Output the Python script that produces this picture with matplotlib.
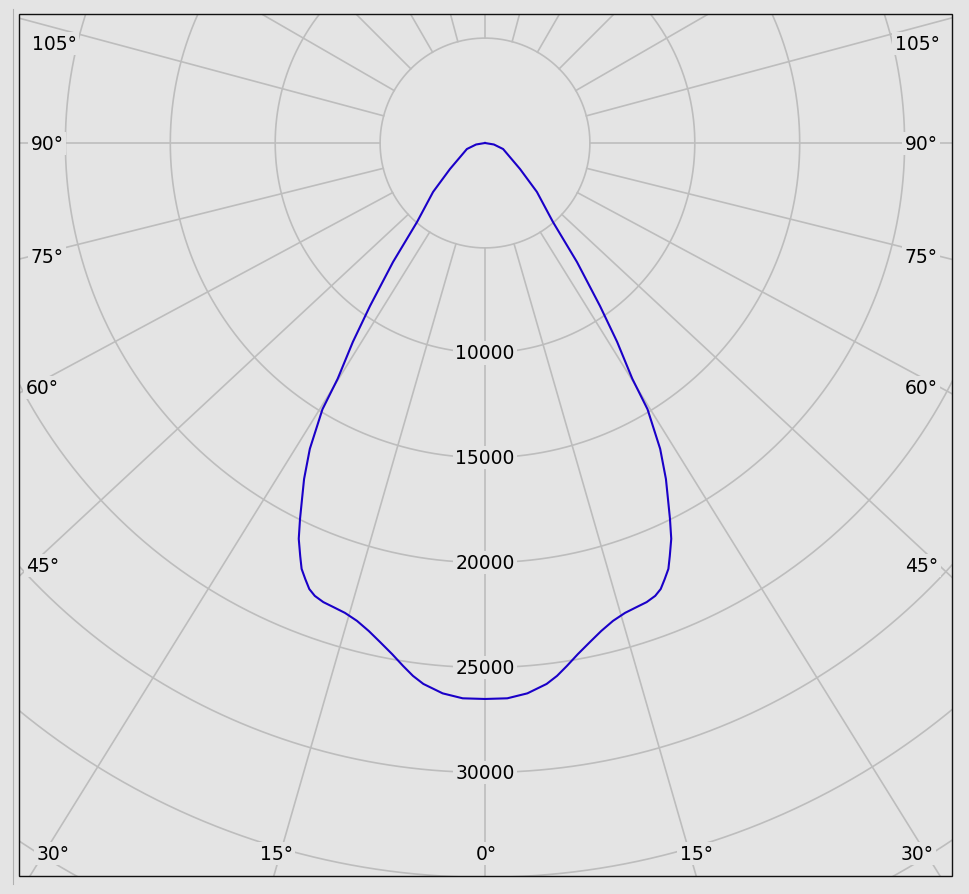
import numpy as np
import matplotlib
matplotlib.use("Agg")
import matplotlib.pyplot as plt
from matplotlib.patches import Rectangle
from matplotlib.lines import Line2D

# ---------------- data ----------------
gamma_deg = [0, 2.3, 4.4, 6.5, 7.7, 8.9, 10.3, 11.9, 13.4, 15.0, 16.6, 18.1,
             19.4, 20.6, 21.5, 22.4, 23.3, 24.1, 25.2, 26.2, 27.2, 28.3, 29.8,
             31.4, 32.0, 33.6, 35.2, 37.7, 40.7, 46.7, 53.4, 58.9, 71.6, 80.5, 90]
intensity_cd = [26500, 26490, 26310, 25950, 25630, 25230, 24760, 24300, 23910,
                23580, 23370, 23270, 23200, 23060, 22850, 22480, 22100, 21570,
                20850, 19970, 19080, 18190, 16800, 14870, 13250, 11380, 9510,
                7170, 4970, 3400, 2080, 1480, 910, 430, 0]
ring_values = [5000, 10000, 15000, 20000, 25000, 30000, 35000, 40000, 45000]
ring_label_values = [10000, 15000, 20000, 25000, 30000]
spoke_angles = list(range(0, 360, 15))
left_labels = ["105°", "90°", "75°", "60°", "45°"]
bottom_labels = ["30°", "15°", "0°", "15°", "30°"]
right_labels = ["45°", "60°", "75°", "90°", "105°"]

# ---------------- layout / style ----------------
W, H = 969, 895
BG = "#e4e4e4"
GRID = "#bdbdbd"
CURVE = "#1a00c8"
FS = 13.5
PX_PER_CD = 0.02098
CX, CY = 485, 144           # pole position in pixels (from top-left)
R_MAX = 45000
R_PX = R_MAX * PX_PER_CD
PL, PR, PT, PB = 19, 952, 15, 877   # plot frame in pixels

plt.rcParams['font.family'] = ['DejaVu Sans']

fig = plt.figure(figsize=(W / 100, H / 100), dpi=100, facecolor=BG)
ax = fig.add_axes([(CX - R_PX) / W, (H - CY - R_PX) / H, 2 * R_PX / W, 2 * R_PX / H],
                  projection='polar')
ax.set_theta_zero_location('S')
ax.set_theta_direction(1)
ax.set_ylim(0, R_MAX)
ax.axis('off')

clip = Rectangle((PL / W, (H - PB) / H), (PR - PL) / W, (PB - PT) / H,
                 transform=fig.transFigure, fc='none', ec='none')

# rings
t = np.linspace(0, 2 * np.pi, 1441)
for rv in ring_values:
    ln, = ax.plot(t, np.full_like(t, rv), color=GRID, lw=1.2, zorder=1)
    ln.set_clip_path(clip)

# spokes (lower half drawn slightly spread as in the reference)
for a in spoke_angles:
    th = np.deg2rad(a)
    if np.cos(th) > 1e-9:
        th = np.arctan2(np.sin(th), 0.93 * np.cos(th))
    ln, = ax.plot([th, th], [ring_values[0], R_MAX], color=GRID, lw=1.2, zorder=1)
    ln.set_clip_path(clip)

# ring labels
for v in ring_label_values:
    ax.text(0, v, f"{v}", ha='center', va='center', fontsize=FS, color='black',
            zorder=3, bbox=dict(boxstyle='square,pad=0.12', fc=BG, ec='none'))

# intensity curve (symmetric)
g = np.deg2rad(np.array(gamma_deg, dtype=float))
I = np.array(intensity_cd, dtype=float)
th_full = np.concatenate([-g[::-1], g[1:]])
I_full = np.concatenate([I[::-1], I[1:]])
cl, = ax.plot(th_full, I_full, color=CURVE, lw=1.5, zorder=5,
              solid_joinstyle='round')
cl.set_clip_path(clip)

# angle labels
def ftext(x, y, s):
    fig.text(x / W, 1 - (y + 1.5) / H, s, ha='center', va='center', fontsize=FS,
             color='black', zorder=6,
             bbox=dict(boxstyle='square,pad=0.12', fc=BG, ec='none'))

left_pos = [(54, 43), (47, 143), (47, 256), (42, 387), (43, 565)]
bottom_pos = [(53, 853), (276, 853), (486, 853), (696, 853), (917, 853)]
right_pos = [(922, 565), (921, 387), (921, 256), (921, 143), (917, 43)]
for s, (x, y) in zip(left_labels, left_pos):
    ftext(x, y, s)
for s, (x, y) in zip(bottom_labels, bottom_pos):
    ftext(x, y, s)
for s, (x, y) in zip(right_labels, right_pos):
    ftext(x, y, s)

# frame and side rule
fig.add_artist(Rectangle((PL / W, (H - PB) / H), (PR - PL) / W, (PB - PT) / H,
                         transform=fig.transFigure, fill=False, ec='#111111',
                         lw=1.0, zorder=10))
fig.add_artist(Line2D([12.7 / W, 12.7 / W], [1 - 10 / H, 1 - 885 / H],
                      transform=fig.transFigure, color='#b0b0b0', lw=0.8))

fig.savefig('out.png', dpi=100, facecolor=BG)
